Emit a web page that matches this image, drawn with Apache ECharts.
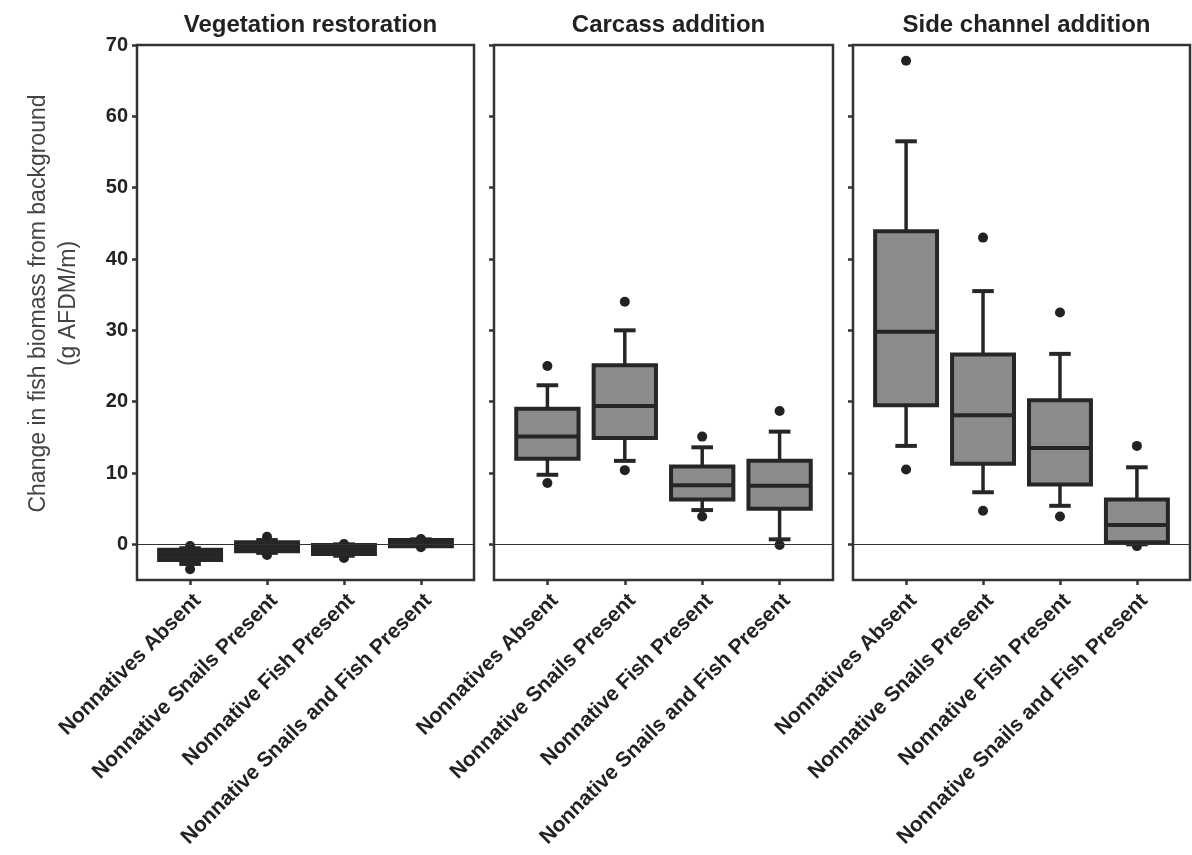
<!DOCTYPE html>
<html>
<head>
<meta charset="utf-8">
<title>Change in fish biomass by restoration treatment</title>
<script src="https://cdn.jsdelivr.net/npm/echarts@6/dist/echarts.min.js"></script>
<style>
  html, body { margin: 0; padding: 0; background: #ffffff; }
  #chart { width: 1192px; height: 855px; }
</style>
</head>
<body>
<div id="chart"></div>
<script>
// Treatment groups shown along each panel's x axis
const categories = [
  'Nonnatives Absent',
  'Nonnative Snails Present',
  'Nonnative Fish Present',
  'Nonnative Snails and Fish Present'
];

const panelTitles = ['Vegetation restoration', 'Carcass addition', 'Side channel addition'];

const yTicks = [0, 10, 20, 30, 40, 50, 60, 70];

// Box summaries per group: [lower whisker, Q1, median, Q3, upper whisker]
const vegetationBoxes = [
  [-2.75, -2.2, -1.5, -0.75, -0.55],
  [-1.2, -0.98, -0.3, 0.28, 0.6],
  [-1.6, -1.35, -0.8, -0.1, 0.0],
  [-0.2, -0.28, 0.2, 0.6, 0.7]
];
const carcassBoxes = [
  [9.75, 12.0, 15.1, 19.0, 22.3],
  [11.7, 14.9, 19.4, 25.1, 30.0],
  [4.8, 6.3, 8.3, 10.9, 13.6],
  [0.7, 5.0, 8.2, 11.7, 15.8]
];
const sideChannelBoxes = [
  [13.8, 19.5, 29.8, 43.9, 56.5],
  [7.3, 11.3, 18.1, 26.6, 35.5],
  [5.4, 8.4, 13.5, 20.2, 26.7],
  [0.0, 0.3, 2.7, 6.3, 10.8]
];

// Outlying points: [group index, value]
const vegetationOutliers = [[0, -0.25], [0, -3.5], [1, 1.07], [1, -1.5], [2, 0.05], [2, -1.9], [3, 0.75], [3, -0.4]];
const carcassOutliers = [[0, 25.0], [0, 8.6], [1, 34.0], [1, 10.4], [2, 15.1], [2, 3.9], [3, 18.7], [3, -0.1]];
const sideChannelOutliers = [[0, 67.8], [0, 10.5], [1, 43.0], [1, 4.7], [2, 32.5], [2, 3.9], [3, 13.8], [3, -0.25]];

const panelBoxes = [vegetationBoxes, carcassBoxes, sideChannelBoxes];
const panelOutliers = [vegetationOutliers, carcassOutliers, sideChannelOutliers];

const FONT = 'Liberation Sans, Arial, Helvetica, sans-serif';
const INK = '#262626';
const BOX_FILL = ['#2a2a2a', '#8c8c8c', '#8c8c8c'];
const BOX_WIDTH = 0.805;   // in category units
const CAP_WIDTH = 0.28;

const grids = [
  { left: 137, top: 45, width: 337, height: 535 },
  { left: 494, top: 45, width: 339, height: 535 },
  { left: 853, top: 45, width: 337, height: 535 }
];

function boxRenderer(fill) {
  return function (params, api) {
    const x = api.value(0);
    const pMin = api.coord([x, api.value(1)]);
    const pQ1 = api.coord([x, api.value(2)]);
    const pMed = api.coord([x, api.value(3)]);
    const pQ3 = api.coord([x, api.value(4)]);
    const pMax = api.coord([x, api.value(5)]);
    const halfBox = api.size([BOX_WIDTH, 0])[0] / 2;
    const halfCap = api.size([CAP_WIDTH, 0])[0] / 2;
    const cx = pMed[0];
    const line = (x1, y1, x2, y2, w) => ({
      type: 'line',
      shape: { x1, y1, x2, y2 },
      style: { stroke: INK, lineWidth: w }
    });
    return {
      type: 'group',
      children: [
        line(cx, pQ3[1], cx, pMax[1], 3.5),
        line(cx, pQ1[1], cx, pMin[1], 3.5),
        line(cx - halfCap, pMax[1], cx + halfCap, pMax[1], 4),
        line(cx - halfCap, pMin[1], cx + halfCap, pMin[1], 4),
        {
          type: 'rect',
          shape: { x: cx - halfBox, y: pQ3[1], width: halfBox * 2, height: pQ1[1] - pQ3[1] },
          style: { fill: fill, stroke: INK, lineWidth: 4 }
        },
        line(cx - halfBox, pMed[1], cx + halfBox, pMed[1], 4)
      ]
    };
  };
}

const option = {
  backgroundColor: '#ffffff',
  animation: false,
  title: panelTitles.map((t, i) => ({
    text: t,
    left: grids[i].left + grids[i].width / 2,
    top: 8,
    textAlign: 'center',
    textStyle: { fontFamily: FONT, fontWeight: 'bold', fontSize: 24, color: '#222' }
  })),
  grid: grids.map(g => Object.assign({}, g, {
    show: true, borderColor: '#333', borderWidth: 2.5, backgroundColor: 'transparent'
  })),
  xAxis: grids.map((g, i) => ({
    type: 'value',
    gridIndex: i,
    min: -0.69,
    max: 3.69,
    splitLine: { show: false },
    axisLine: { show: false, onZero: false },
    axisTick: {
      show: true, inside: false, length: 5, customValues: [0, 1, 2, 3],
      lineStyle: { color: '#333', width: 2.5 }
    },
    axisLabel: {
      customValues: [0, 1, 2, 3],
      rotate: 45,
      margin: 10,
      verticalAlign: 'top',
      formatter: v => categories[Math.round(v)],
      fontFamily: FONT, fontWeight: 'bold', fontSize: 21, color: '#222'
    }
  })),
  yAxis: grids.map((g, i) => ({
    type: 'value',
    gridIndex: i,
    min: -5,
    max: 70,
    splitLine: { show: false },
    axisLine: { show: false, onZero: false },
    axisTick: {
      show: true, inside: false, length: 5, customValues: yTicks,
      lineStyle: { color: '#333', width: 2.5 }
    },
    axisLabel: {
      show: i === 0,
      customValues: yTicks,
      margin: 9,
      fontFamily: FONT, fontWeight: 'bold', fontSize: 20, color: '#222'
    },
    name: i === 0 ? 'Change in fish biomass from background\n(g AFDM/m)' : '',
    nameLocation: 'middle',
    nameGap: 53,
    nameTextStyle: { fontFamily: FONT, fontSize: 23, color: '#444', lineHeight: 30, padding: [0, 0, 0, 18] }
  })),
  series: []
};

panelBoxes.forEach((boxes, i) => {
  option.series.push({
    type: 'custom',
    xAxisIndex: i,
    yAxisIndex: i,
    renderItem: boxRenderer(BOX_FILL[i]),
    encode: { x: 0, y: [1, 2, 3, 4, 5] },
    data: boxes.map((b, k) => [k].concat(b)),
    z: 3,
    markLine: {
      silent: true,
      symbol: 'none',
      label: { show: false },
      lineStyle: { color: '#333', width: 1.2, type: 'solid' },
      data: [{ yAxis: 0 }]
    }
  });
  option.series.push({
    type: 'scatter',
    xAxisIndex: i,
    yAxisIndex: i,
    symbol: 'circle',
    symbolSize: 10,
    itemStyle: { color: '#222', opacity: 1 },
    data: panelOutliers[i],
    z: 2
  });
});

const chart = echarts.init(document.getElementById('chart'), null, { renderer: 'canvas' });
chart.setOption(option);
</script>
</body>
</html>
